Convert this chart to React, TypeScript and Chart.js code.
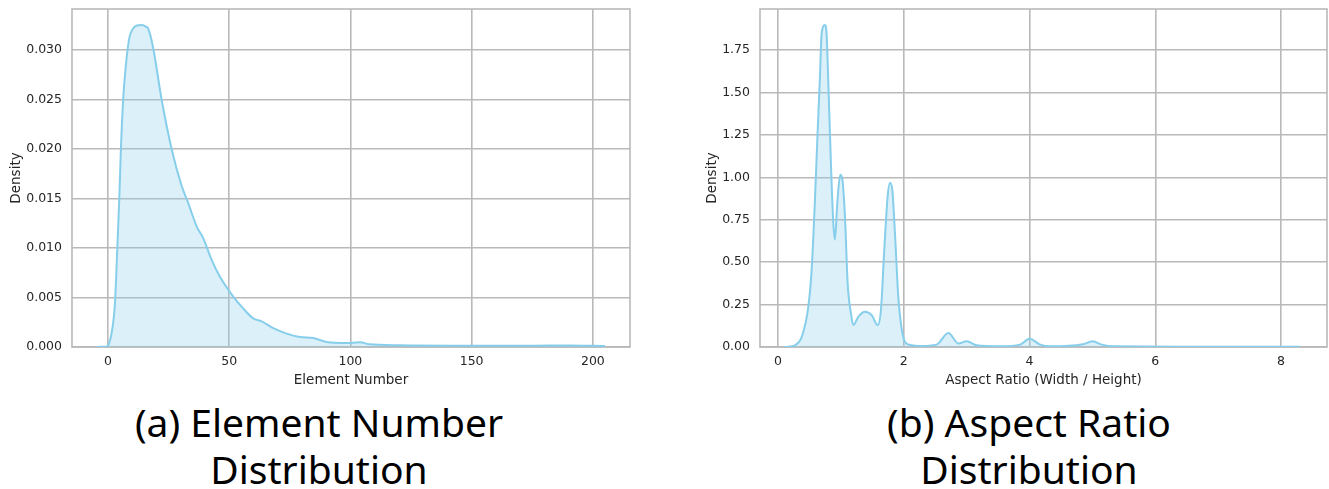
import React, { useEffect, useRef } from 'react';
import { Chart, registerables } from 'chart.js';

Chart.register(...registerables);

// ---------- Data ----------
const elementX = [-4.5, -2, 0, 0.3, 1.5, 2.9, 3.85, 4.68, 5.36, 6.32, 7.42, 8.8, 10.4, 12, 13.9, 15.5, 16.6, 18.7, 22.1, 26.3, 30.4, 33.1, 36.6, 39.3, 42.8, 46.2, 51.7, 55.8, 59.9, 63.4, 68.2, 73.7, 79.2, 84.7, 90.2, 98.4, 103.9, 108, 120, 148, 175, 190, 205];
const elementDensity = [0.00001, 0.00002, 0.00008, 0.00025, 0.00135, 0.0044, 0.0098, 0.0149, 0.02, 0.0251, 0.0285, 0.0312, 0.0322, 0.0325, 0.03254, 0.0324, 0.0322, 0.0302, 0.0251, 0.02, 0.0163, 0.01457, 0.0122, 0.011, 0.0088, 0.0071, 0.0051, 0.0039, 0.0029, 0.0026, 0.0019, 0.00135, 0.001, 0.0009, 0.0005, 0.0004, 0.00047, 0.00027, 0.00017, 0.00013, 0.00013, 0.00015, 0.0001];
const elementTicks = [0, 50, 100, 150, 200];
const elementDensityTicks = [0, 0.005, 0.01, 0.015, 0.02, 0.025, 0.03];

const ratioX = [0.1, 0.2, 0.27, 0.377, 0.482, 0.535, 0.588, 0.63, 0.668, 0.694, 0.747, 0.774, 0.8, 0.843, 0.88, 0.906, 0.943, 0.99, 1.023, 1.065, 1.108, 1.16, 1.198, 1.277, 1.383, 1.49, 1.585, 1.637, 1.69, 1.744, 1.78, 1.817, 1.86, 1.913, 1.966, 2.02, 2.12, 2.26, 2.52, 2.71, 2.87, 3.0, 3.16, 3.53, 3.85, 4.0, 4.17, 4.32, 4.85, 5.0, 5.15, 5.33, 6.5, 8.3];
const ratioDensity = [0, 0.003, 0.01, 0.059, 0.237, 0.455, 0.87, 1.265, 1.6, 1.85, 1.898, 1.84, 1.56, 1.07, 0.73, 0.633, 0.85, 1.015, 0.99, 0.77, 0.375, 0.198, 0.129, 0.178, 0.208, 0.188, 0.129, 0.218, 0.573, 0.89, 0.969, 0.93, 0.672, 0.297, 0.109, 0.03, 0.01, 0.006, 0.014, 0.083, 0.02, 0.034, 0.01, 0.004, 0.014, 0.049, 0.014, 0.004, 0.016, 0.034, 0.014, 0.004, 0.002, 0.001];
const ratioTicks = [0, 2, 4, 6, 8];
const ratioDensityTicks = [0, 0.25, 0.5, 0.75, 1.0, 1.25, 1.5, 1.75];

// ---------- Style ----------
const GRID = '#b9b9b9';
const TEXT = '#262626';
const LINE = '#87ceeb';
const FILL = 'rgba(135, 206, 235, 0.3)';
const FONT = 'DejaVu Sans';

const framePlugin = {
  id: 'frame',
  beforeDatasetsDraw(chart: any) {
    const { ctx, chartArea } = chart;
    const { left, top, right, bottom } = chartArea;
    ctx.save();
    ctx.strokeStyle = GRID;
    ctx.lineWidth = 1.6;
    ctx.strokeRect(left, top, right - left, bottom - top);
    ctx.restore();
  },
};

type KdeProps = {
  xs: number[];
  ys: number[];
  xMin: number;
  xMax: number;
  xTicks: number[];
  yMax: number;
  yTicks: number[];
  yDigits: number;
  xTitle: string;
  yAxisWidth: number;
  yTitlePad: number;
  width: number;
  height: number;
  padRight: number;
};

function KdeChart(p: KdeProps) {
  const ref = useRef<HTMLCanvasElement | null>(null);
  useEffect(() => {
    if (!ref.current) return;
    const data = p.xs.map((x, i) => ({ x, y: p.ys[i] }));
    const chart = new Chart(ref.current, {
      type: 'line',
      data: {
        datasets: [
          {
            data,
            borderColor: LINE,
            backgroundColor: FILL,
            borderWidth: 2,
            fill: 'origin',
            pointRadius: 0,
            cubicInterpolationMode: 'monotone',
          },
        ],
      },
      options: {
        responsive: false,
        animation: false,
        devicePixelRatio: 1,
        layout: { padding: { top: 9, right: p.padRight, left: 0, bottom: 0 } },
        plugins: { legend: { display: false }, tooltip: { enabled: false } },
        scales: {
          x: {
            type: 'linear',
            min: p.xMin,
            max: p.xMax,
            afterBuildTicks: (axis: any) => {
              axis.ticks = p.xTicks.map((v) => ({ value: v }));
            },
            afterFit: (scale: any) => {
              scale.height = 43;
              scale.paddingLeft = 0;
              scale.paddingRight = 0;
              scale.paddingTop = 0;
              scale.paddingBottom = 0;
            },
            grid: { color: GRID, lineWidth: 1.6, drawTicks: false },
            border: { display: false },
            ticks: {
              color: TEXT,
              font: { family: FONT, size: 12.5 },
              padding: 7,
              maxRotation: 0,
              callback: (v: any) => String(v),
            },
            title: {
              display: true,
              text: p.xTitle,
              color: TEXT,
              font: { family: FONT, size: 13.5 },
              padding: { top: 4, bottom: 1 },
            },
          },
          y: {
            type: 'linear',
            min: 0,
            max: p.yMax,
            afterBuildTicks: (axis: any) => {
              axis.ticks = p.yTicks.map((v) => ({ value: v }));
            },
            afterFit: (scale: any) => {
              scale.width = p.yAxisWidth;
              scale.paddingLeft = 0;
              scale.paddingRight = 0;
              scale.paddingTop = 0;
              scale.paddingBottom = 0;
            },
            grid: { color: GRID, lineWidth: 1.6, drawTicks: false },
            border: { display: false },
            ticks: {
              color: TEXT,
              font: { family: FONT, size: 12.5 },
              padding: 10,
              callback: (v: any) => Number(v).toFixed(p.yDigits),
            },
            title: {
              display: true,
              text: 'Density',
              color: TEXT,
              font: { family: FONT, size: 13.5 },
              padding: { top: p.yTitlePad, bottom: 4 },
            },
          },
        },
      },
      plugins: [framePlugin],
    } as any);
    return () => chart.destroy();
  }, []);
  return (
    <canvas
      ref={ref}
      width={p.width}
      height={p.height}
      style={{ width: p.width, height: p.height, display: 'block' }}
    />
  );
}

const captionStyle: React.CSSProperties = {
  position: 'absolute',
  top: 398,
  width: 600,
  textAlign: 'center',
  fontFamily: '"Noto Sans", sans-serif',
  fontSize: 39,
  lineHeight: '47px',
  color: '#000',
};

export default function App() {
  return (
    <div style={{ position: 'absolute', left: 0, top: 0, width: 1329, height: 489, background: '#fff', overflow: 'hidden' }}>
      <div style={{ position: 'absolute', left: 0, top: 0 }}>
        <KdeChart
          xs={elementX}
          ys={elementDensity}
          xMin={-14.8}
          xMax={215.3}
          xTicks={elementTicks}
          yMax={0.03417}
          yTicks={elementDensityTicks}
          yDigits={3}
          xTitle="Element Number"
          yAxisWidth={72}
          yTitlePad={8}
          width={650}
          height={390}
          padRight={20}
        />
      </div>
      <div style={{ position: 'absolute', left: 690, top: 0 }}>
        <KdeChart
          xs={ratioX}
          ys={ratioDensity}
          xMin={-0.286}
          xMax={8.73}
          xTicks={ratioTicks}
          yMax={1.993}
          yTicks={ratioDensityTicks}
          yDigits={2}
          xTitle="Aspect Ratio (Width / Height)"
          yAxisWidth={70}
          yTitlePad={14.5}
          width={639}
          height={390}
          padRight={2}
        />
      </div>
      <div style={{ ...captionStyle, left: 19 }}>
        (a) Element Number
        <br />
        Distribution
      </div>
      <div style={{ ...captionStyle, left: 729 }}>
        (b) Aspect Ratio
        <br />
        Distribution
      </div>
    </div>
  );
}
